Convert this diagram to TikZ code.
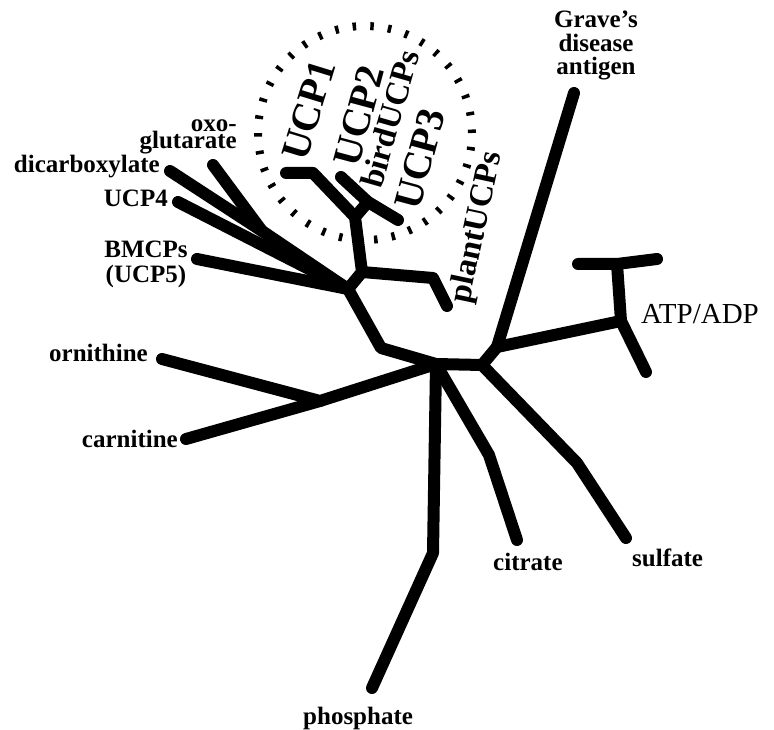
\documentclass[tikz,border=0pt]{standalone}
\usepackage{fontspec}
\setmainfont{Liberation Serif}
\usepackage{tikz}

\tikzset{
  branch/.style={line width=12pt, line cap=round, line join=round},
  leaf/.style={font=\fontsize{25}{27}\selectfont\bfseries, inner sep=0pt},
  ucpname/.style={font=\fontsize{40}{42}\selectfont\bfseries, inner sep=0pt, anchor=base west},
  subfam/.style={font=\fontsize{33}{35}\selectfont\bfseries, inner sep=0pt, anchor=base west},
  ring/.style={line width=8pt, dash pattern=on 3.5pt off 14.2pt}
}

\begin{document}
\begin{tikzpicture}[x=1pt,y=-1pt]
  \useasboundingbox (0,0) rectangle (774,730);
  % dashed ring round the UCP clade
  \draw[ring] (365,133) circle (107pt);
  % inner junctions
  \coordinate (A) at (348,289);
  \coordinate (B) at (381,348);
  \coordinate (C) at (436,364);
  \coordinate (E) at (482,365);
  \coordinate (H) at (497,347);
  \coordinate (F) at (621,321);
  \coordinate (G) at (617,264);
  \coordinate (D) at (320,401);
  \coordinate (L) at (362,272);
  \coordinate (K1) at (355,217);
  \coordinate (K2) at (368,202);
  \coordinate (J) at (262,231);
  \coordinate (plantbend) at (433,278);
  \coordinate (ucp1bend) at (313,173);
  \coordinate (citbend) at (489,455);
  \coordinate (sulfbend) at (577,463);
  \coordinate (phosbend) at (433,553);
  % leaves
  \coordinate (oxo) at (213,165);
  \coordinate (dicarb) at (170,171);
  \coordinate (ucp4) at (178,202);
  \coordinate (bmcp) at (197,259);
  \coordinate (orn) at (162,359);
  \coordinate (carn) at (186,439);
  \coordinate (phos) at (372,688);
  \coordinate (cit) at (517,540);
  \coordinate (sulf) at (626,538);
  \coordinate (atpdown) at (646,372);
  \coordinate (atpleft) at (578,264);
  \coordinate (atpright) at (657,259);
  \coordinate (graves) at (574,93);
  \coordinate (plant) at (447,306);
  \coordinate (ucp1) at (286,173);
  \coordinate (ucp2) at (341,177);
  \coordinate (ucp3) at (398,220);

  % backbone
  \draw[branch] (A) -- (B) -- (C) -- (E) -- (H);
  % left cluster
  \draw[branch] (dicarb) -- (J) -- (A);
  \draw[branch] (oxo) -- (J);
  \draw[branch] (ucp4) -- (A);
  \draw[branch] (bmcp) -- (A);
  % UCP clade
  \draw[branch] (A) -- (L) -- (K1) -- (ucp1bend) -- (ucp1);
  \draw[branch] (K1) -- (K2) -- (ucp2);
  \draw[branch] (K2) -- (ucp3);
  \draw[branch] (L) -- (plantbend) -- (plant);
  % lower branches
  \draw[branch] (C) -- (D) -- (orn);
  \draw[branch] (D) -- (carn);
  \draw[branch] (C) -- (phosbend) -- (phos);
  \draw[branch] (C) -- (citbend) -- (cit);
  \draw[branch] (E) -- (sulfbend) -- (sulf);
  % right branches
  \draw[branch] (H) -- (graves);
  \draw[branch] (H) -- (F) -- (atpdown);
  \draw[branch] (F) -- (G);
  \draw[branch] (atpleft) -- (G) -- (atpright);

  % labels
  \node[leaf, anchor=base east] (oxolab) at (237,132) {oxo-};
  \node[leaf, anchor=base east] (glulab) at (237,149) {glutarate};
  \node[leaf, anchor=base east] (dicarblab) at (160,173) {dicarboxylate};
  \node[leaf, anchor=base east] (ucp4lab) at (168,207) {UCP4};
  \node[leaf, anchor=base] (bmcplab) at (146,258) {BMCPs};
  \node[leaf, anchor=base] (ucp5lab) at (146,283) {(UCP5)};
  \node[leaf, anchor=base east] (ornlab) at (148,361) {ornithine};
  \node[leaf, anchor=base east] (carnlab) at (178,447) {carnitine};
  \node[leaf, anchor=base west] (phoslab) at (303,724) {phosphate};
  \node[leaf, anchor=base west] (citlab) at (493,570) {citrate};
  \node[leaf, anchor=base west] (sulflab) at (632,566) {sulfate};
  \node[leaf, anchor=base] (graveslab1) at (596,28) {Grave's};
  \node[leaf, anchor=base] (graveslab2) at (596,52) {disease};
  \node[leaf, anchor=base] (graveslab3) at (596,75) {antigen};
  \node[font=\fontsize{29}{31}\selectfont, inner sep=0pt, anchor=base west] (atplab) at (641,323) {ATP/ADP};
  \node[ucpname, rotate=73] (ucp1lab) at (306,163) {UCP1};
  \node[ucpname, rotate=75] (ucp2lab) at (358,169) {UCP2};
  \node[ucpname, rotate=75] (ucp3lab) at (419,212) {UCP3};
  \node[subfam, rotate=74] (birdlab) at (381,190) {birdUCPs};
  \node[subfam, rotate=78] (plantlab) at (469,305) {plantUCPs};
\end{tikzpicture}
\end{document}
